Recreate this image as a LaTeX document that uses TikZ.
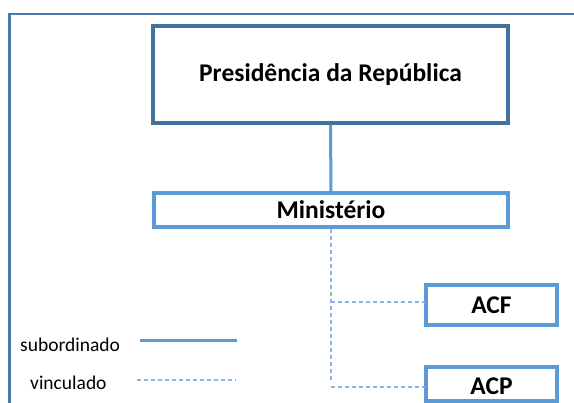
\documentclass[tikz,border=0pt]{standalone}
\usepackage{fontspec}
\setmainfont{Carlito}
\definecolor{frameblue}{HTML}{4A7AAD}
\definecolor{darkbox}{HTML}{41719C}
\definecolor{midblue}{HTML}{5B9BD5}
\definecolor{lightdash}{HTML}{8DB6E2}
\tikzset{
  unitbox/.style={draw, rectangle, inner sep=0pt, fill=white, font=\bfseries\fontsize{25.5}{28}\selectfont, text=black},
  topbox/.style={unitbox, draw=darkbox, line width=3.6pt},
  subbox/.style={unitbox, draw=midblue, line width=3.4pt},
  subord/.style={draw=midblue, line width=3pt},
  vinc/.style={draw=lightdash, line width=1.4pt, dash pattern=on 4pt off 3pt},
  legtext/.style={font=\fontsize{19.5}{22}\selectfont, text=black, inner sep=0pt},
}
\begin{document}
\begin{tikzpicture}[x=1pt, y=-1pt]
\useasboundingbox (0,0) rectangle (574,403);
\fill[white] (0,0) rectangle (574,403);
% outer frame
\draw[frameblue, line width=2.6pt] (9.3,403) -- (9.3,14) -- (574,14);
% nodes
\node[topbox, minimum width=355pt, minimum height=97pt] (P) at (330.5,74.5) {Presidência da República};
\node[subbox, minimum width=354pt, minimum height=34pt] (M) at (331,210) {Ministério};
\node[subbox, minimum width=131pt, minimum height=40pt] (F) at (491.5,305) {ACF};
\node[subbox, minimum width=131pt, minimum height=34pt, text height=22pt, text depth=0pt] (A) at (491.5,384) {ACP};
% connectors
\coordinate (vend) at (331,380);
\coordinate (jf) at (331,302);
\coordinate (ja) at (331,387);
\coordinate (fa) at (424.5,302);
\coordinate (aa) at (424.5,387);
\draw[subord] (P.south) -- (M.north);
\draw[vinc] (M.south) -- (vend);
\draw[vinc] (jf) -- (fa);
\draw[vinc] (ja) -- (aa);
% legend
\node[legtext, anchor=west] (ls) at (20,345) {subordinado};
\node[legtext, anchor=west] (lv) at (30,383) {vinculado};
\coordinate (s1) at (140,341);
\coordinate (s2) at (237,341);
\coordinate (v1) at (137,380);
\coordinate (v2) at (236,380);
\draw[subord] (s1) -- (s2);
\draw[vinc, line width=1.2pt] (v1) -- (v2);
\end{tikzpicture}
\end{document}
